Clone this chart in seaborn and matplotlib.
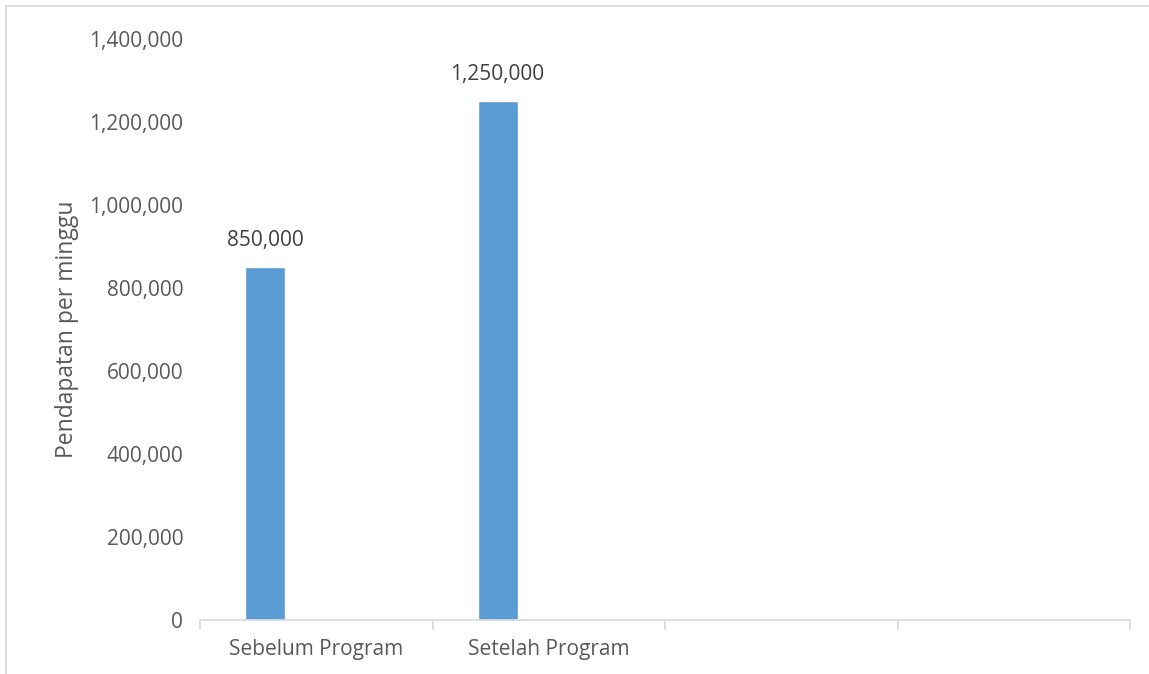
import numpy as np
import pandas as pd
import seaborn as sns
import matplotlib.pyplot as plt
from matplotlib.lines import Line2D
from matplotlib.ticker import FuncFormatter, FixedLocator

# chart data
categories = ["Sebelum Program", "Setelah Program", "", " "]
series_names = ["Pendapatan", "Kosong"]
pendapatan = [850000, 1250000, np.nan, np.nan]
kosong = [np.nan, np.nan, np.nan, np.nan]
y_ticks = [0, 200000, 400000, 600000, 800000, 1000000, 1200000, 1400000]

sns.set_style("white")
plt.rcParams['font.family'] = ['Open Sans', 'DejaVu Sans']

df = pd.DataFrame({
    "Kategori": categories * 2,
    "Seri": [series_names[0]] * 4 + [series_names[1]] * 4,
    "Nilai": pendapatan + kosong,
})

fig = plt.figure(figsize=(11.49, 6.74), dpi=100)
ax = fig.add_axes([200 / 1149, 1 - 620 / 674, 930 / 1149, 581 / 674])

sns.barplot(data=df, x="Kategori", y="Nilai", hue="Seri", order=categories,
            hue_order=series_names, palette=["#5B9BD5", "#ED7D31"],
            width=0.88, gap=0.61, legend=False, ax=ax, saturation=1)

for cont in ax.containers:
    ax.bar_label(cont, labels=[f"{v:,.0f}" if np.isfinite(v) and v > 0 else "" for v in cont.datavalues],
                 padding=12, fontsize=15, color="#404040")

ax.set_xlim(-0.5, 3.5)
ax.set_ylim(0, 1400000)
ax.yaxis.set_major_locator(FixedLocator(y_ticks))
ax.yaxis.set_major_formatter(FuncFormatter(lambda v, p: f"{v:,.0f}"))
ax.tick_params(axis="y", length=0, pad=12, labelsize=15, labelcolor="#595959")

ax.set_xticks(range(len(categories)))
ax.set_xticklabels(categories)
ax.set_xticks(np.arange(-0.5, len(categories), 1.0), minor=True)
ax.tick_params(axis="x", which="major", bottom=True, length=0, pad=14, labelsize=15, labelcolor="#595959")
ax.tick_params(axis="x", which="minor", bottom=True, length=7, width=1.2, color="#D9D9D9", direction="out")

for s in ["top", "right", "left"]:
    ax.spines[s].set_visible(False)
ax.spines["bottom"].set_color("#D9D9D9")
ax.spines["bottom"].set_linewidth(1.2)

ax.set_xlabel("")
ax.set_ylabel("Pendapatan per minggu", fontsize=16.5, color="#595959", labelpad=7)
ax.grid(False)

# chart area border
fig.add_artist(Line2D([6 / 1149, 6 / 1149], [0, 1 - 6 / 674], color="#D9D9D9", lw=1.2, transform=fig.transFigure))
fig.add_artist(Line2D([6 / 1149, 1], [1 - 6 / 674, 1 - 6 / 674], color="#D9D9D9", lw=1.2, transform=fig.transFigure))

fig.savefig("out.png", dpi=100)
plt.close()
